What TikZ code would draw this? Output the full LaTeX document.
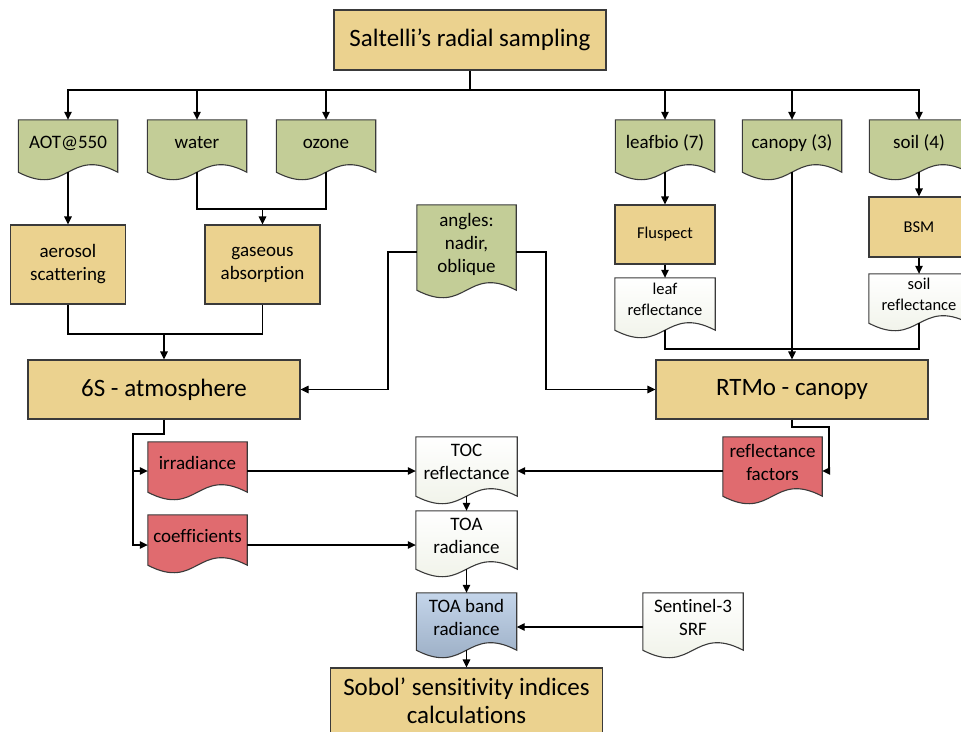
\documentclass[tikz,border=0pt]{standalone}
\usepackage{fontspec}
\setmainfont{Carlito}[Ligatures={NoCommon}]
\usetikzlibrary{arrows.meta,backgrounds,calc}
\definecolor{tanfill}{HTML}{EBD28F}
\definecolor{greenfill}{HTML}{C3CD97}
\definecolor{redfill}{HTML}{E06B6F}
\definecolor{bluetop}{HTML}{C4D5EA}
\definecolor{bluebot}{HTML}{93A6BD}
\definecolor{whitebot}{HTML}{EDF0E4}
\definecolor{edge}{HTML}{3A3A3A}
\newcommand\docshape[2]{\draw[draw=edge,line width=1.1pt,#2] (#1.north west) -- (#1.north east) -- (#1.south east) .. controls ([yshift=26pt]#1.south) and ([yshift=-26pt]#1.south) .. (#1.south west) -- cycle;}
\begin{document}
\begin{tikzpicture}[x=1pt,y=-1pt,
  box/.style={rectangle, draw=edge, line width=1.1pt, fill=tanfill, inner sep=0pt, align=center},
  big/.style={font=\fontsize{25}{28}\selectfont},
  mid/.style={font=\fontsize{19}{23}\selectfont},
  small/.style={font=\fontsize{16.5}{21}\selectfont},
  doc/.style={rectangle, inner sep=0pt, align=center, minimum width=99pt,
    execute at begin node={\rule{0pt}{14pt}},
    execute at end node={\rule[-9pt]{0pt}{9pt}}},
  arr/.style={-{Triangle[length=8pt,width=7.5pt]}, line width=1.1pt},
  con/.style={line width=1.1pt}]
\useasboundingbox (0,0) rectangle (961,731);

% nodes
\node[box,big,minimum width=272pt,minimum height=60pt] (salt) at (470,40) {Saltelli’s radial sampling};
\node[doc,mid,minimum height=52pt] (aot) at (68,146) {AOT@550};
\node[doc,mid,minimum height=52pt] (water) at (197,146) {water};
\node[doc,mid,minimum height=52pt] (ozone) at (326,146) {ozone};
\node[doc,mid,minimum height=52pt] (leafbio) at (665,146) {leafbio (7)};
\node[doc,mid,minimum height=52pt] (canopy) at (792,146) {canopy (3)};
\node[doc,mid,minimum height=52pt] (soil) at (919,146) {soil (4)};
\node[box,mid,minimum width=115pt,minimum height=79pt] (aerosol) at (68,264.5) {aerosol\\scattering};
\node[box,mid,minimum width=115pt,minimum height=79pt] (gaseous) at (262.5,264.5) {gaseous\\absorption};
\node[doc,mid,minimum height=85pt] (angles) at (466.5,247.5) {angles:\\nadir,\\oblique};
\node[box,small,minimum width=100pt,minimum height=59pt] (flu) at (665,234.5) {Fluspect};
\node[box,small,minimum width=100pt,minimum height=60pt] (bsm) at (919,227) {BSM};
\node[doc,small,minimum width=100pt,minimum height=52pt] (leafrefl) at (665,304) {leaf\\reflectance};
\node[doc,small,minimum width=100pt,minimum height=49pt] (soilrefl) at (919,298.5) {soil\\reflectance};
\node[box,big,minimum width=272pt,minimum height=59pt] (six) at (164,389.5) {6S - atmosphere};
\node[box,big,minimum width=272pt,minimum height=59pt] (rtmo) at (792,389.5) {RTMo - canopy};
\node[doc,mid,minimum height=50pt] (irr) at (197.5,467) {irradiance};
\node[doc,mid,minimum height=50pt] (coef) at (197.5,540) {coefficients};
\node[doc,mid,minimum width=101pt,minimum height=59pt] (toc) at (466.5,466.5) {TOC\\reflectance};
\node[doc,mid,minimum width=101pt,minimum height=58pt] (toa) at (466.5,540) {TOA\\radiance};
\node[doc,mid,minimum height=59pt] (rf) at (772.5,466.5) {reflectance\\factors};
\node[doc,mid,minimum width=100pt,minimum height=57pt] (band) at (466.5,621.5) {TOA band\\radiance};
\node[doc,mid,minimum width=100pt,minimum height=57pt] (sent) at (693,621.5) {Sentinel-3\\SRF};
\node[box,big,minimum width=272pt,minimum height=66pt] (sobol) at (466.5,701) {Sobol’ sensitivity indices\\calculations};

\begin{scope}[on background layer]
\foreach \n in {aot,water,ozone,leafbio,canopy,soil,angles}{\docshape{\n}{fill=greenfill}}
\foreach \n in {irr,coef,rf}{\docshape{\n}{fill=redfill}}
\foreach \n in {leafrefl,soilrefl,toc,toa,sent}{\docshape{\n}{top color=white,bottom color=whitebot}}
\docshape{band}{top color=bluetop,bottom color=bluebot}
\end{scope}

% connectors
\coordinate (bus) at (470,90);
\draw[con] (salt.south) -- (bus);
\foreach \n in {aot,water,ozone,leafbio,canopy,soil}{\draw[arr] (bus) -| (\n.north);}
\draw[arr] (aot.south) -- (aerosol.north);
\coordinate (gj) at (262.5,209);
\draw[con] (water.south) |- (gj) -| (ozone.south);
\draw[arr] (gj) -- (gaseous.north);
\coordinate (aj) at (164,334);
\draw[con] (aerosol.south) |- (aj) -| (gaseous.south);
\draw[arr] (aj) -- (six.north);
\coordinate (al) at (388,389.5);
\coordinate (ar) at (546,389.5);
\draw[arr] ([yshift=-4.5pt]angles.west) -| (al) -- (six.east);
\draw[arr] ([yshift=-4.5pt]angles.east) -| (ar) -- (rtmo.west);
\draw[arr] (leafbio.south) -- (flu.north);
\draw[arr] (flu.south) -- (leafrefl.north);
\draw[arr] (soil.south) -- (bsm.north);
\draw[arr] (bsm.south) -- (soilrefl.north);
\draw[arr] (canopy.south) -- (rtmo.north);
\coordinate (rj) at (792,349);
\draw[con] (leafrefl.south) |- (rj) -| (soilrefl.south);
\coordinate (s2) at (133,434);
\coordinate (irrin) at ([yshift=-4pt]irr.west);
\coordinate (coefin) at ([yshift=-5pt]coef.west);
\draw[arr] (six.south) |- (s2) |- (coefin);
\draw[arr] (s2) |- (irrin);
\draw[arr] (irrin -| irr.east) -- (irrin -| toc.west);
\draw[arr] (coefin -| coef.east) -- (coefin -| toa.west);
\coordinate (rr) at (829,427);
\coordinate (rfin) at ([yshift=-4.5pt]rf.east);
\draw[arr] (rtmo.south) |- (rr) |- (rfin);
\draw[arr] (rfin -| rf.west) -- (rfin -| toc.east);
\draw[arr] (toc.south) -- (toa.north);
\draw[arr] (toa.south) -- (band.north);
\draw[arr] (band.south) -- (sobol.north);
\draw[arr] ([yshift=-5.5pt]sent.west) -- ([yshift=-5.5pt]band.east);
\end{tikzpicture}
\end{document}
